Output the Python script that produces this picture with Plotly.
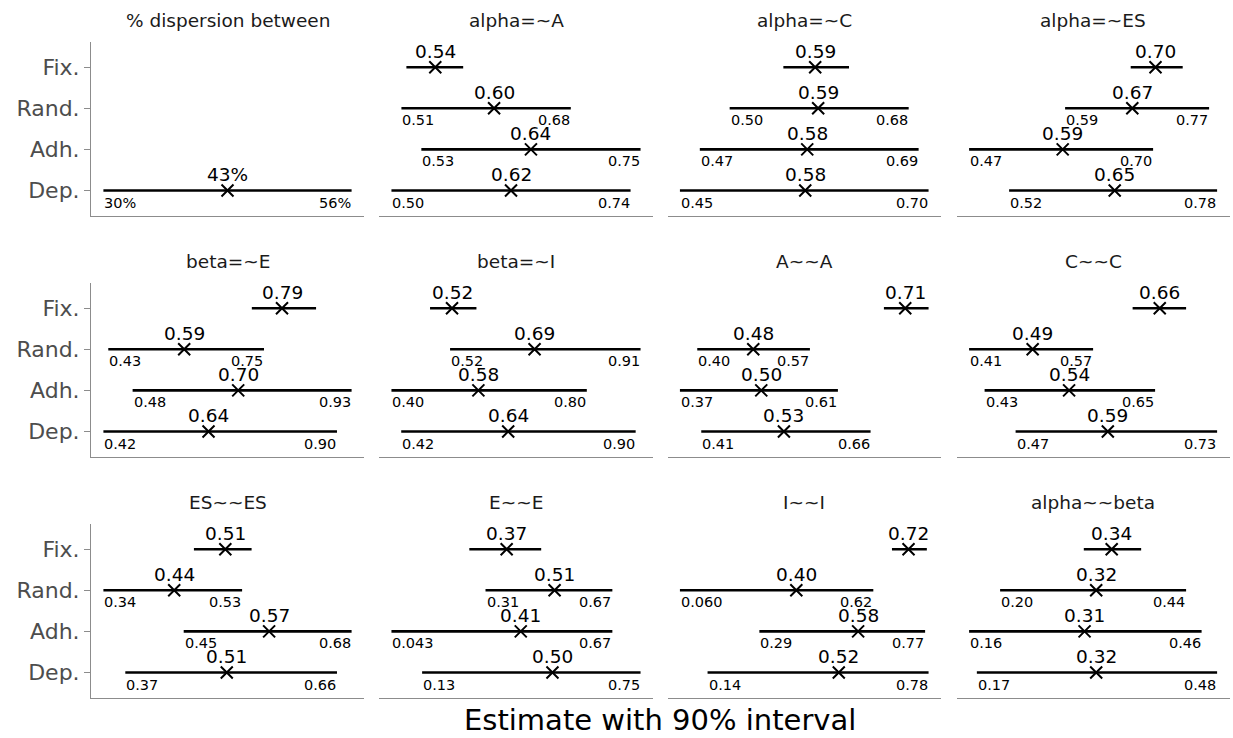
import math
import plotly.graph_objects as go

# ---------------- data ----------------
titles = ["% dispersion between", "alpha=~A", "alpha=~C", "alpha=~ES",
          "beta=~E", "beta=~I", "A~~A", "C~~C",
          "ES~~ES", "E~~E", "I~~I", "alpha~~beta"]
row_labels = ["Fix.", "Rand.", "Adh.", "Dep."]

# order within each panel: Fix., Rand., Adh., Dep.
estimate = [
    [None, None, None, 0.43],
    [0.544, 0.603, 0.640, 0.620],
    [0.586, 0.589, 0.578, 0.576],
    [0.703, 0.674, 0.587, 0.652],
    [0.787, 0.586, 0.697, 0.636],
    [0.524, 0.693, 0.578, 0.639],
    [0.712, 0.484, 0.496, 0.530],
    [0.656, 0.492, 0.539, 0.589],
    [0.507, 0.437, 0.567, 0.509],
    [0.370, 0.506, 0.410, 0.500],
    [0.722, 0.397, 0.576, 0.520],
    [0.344, 0.324, 0.309, 0.324],
]
lower = [
    [None, None, None, 0.30],
    [0.515, 0.51, 0.53, 0.50],
    [0.554, 0.50, 0.47, 0.45],
    [0.672, 0.59, 0.47, 0.52],
    [0.725, 0.43, 0.48, 0.42],
    [0.479, 0.52, 0.40, 0.42],
    [0.680, 0.400, 0.374, 0.406],
    [0.621, 0.41, 0.43, 0.47],
    [0.464, 0.34, 0.45, 0.37],
    [0.264, 0.31, 0.043, 0.13],
    [0.674, 0.060, 0.29, 0.14],
    [0.308, 0.20, 0.16, 0.17],
]
upper = [
    [None, None, None, 0.56],
    [0.572, 0.68, 0.75, 0.74],
    [0.620, 0.68, 0.69, 0.70],
    [0.737, 0.77, 0.70, 0.78],
    [0.857, 0.75, 0.93, 0.90],
    [0.574, 0.91, 0.80, 0.90],
    [0.747, 0.569, 0.611, 0.660],
    [0.690, 0.57, 0.65, 0.73],
    [0.543, 0.53, 0.68, 0.66],
    [0.468, 0.67, 0.67, 0.75],
    [0.775, 0.62, 0.77, 0.78],
    [0.382, 0.44, 0.46, 0.48],
]
percent_panel = [True] + [False] * 11

# ---------------- layout geometry ----------------
W, H = 1233, 738
col_px = [(91, 364), (379, 653), (667.5, 941), (956.7, 1229.5)]
row_px = [(41.7, 216), (282.7, 457), (523.7, 698)]
FONT = "DejaVu Sans"
AXIS_GREY = "#8c8c8c"


def fmt(v, pct):
    if pct:
        return f"{round(v * 100)}%"
    d = 1 - int(math.floor(math.log10(abs(v))))
    return f"{v:.{max(d, 0)}f}"


fig = go.Figure()
layout = dict(
    width=W, height=H, autosize=False,
    margin=dict(l=0, r=0, t=0, b=0),
    paper_bgcolor="white", plot_bgcolor="white",
    showlegend=False,
    font=dict(family=FONT, color="black"),
)
annotations = []

for i, title in enumerate(titles):
    r, c = divmod(i, 4)
    sfx = "" if i == 0 else str(i + 1)
    xa, ya = "x" + sfx, "y" + sfx
    x0, x1 = col_px[c]
    yt, yb = row_px[r]
    pct = percent_panel[i]

    vals = [v for v in lower[i] + upper[i] if v is not None]
    vmin, vmax = min(vals), max(vals)
    pad = 0.05 * (vmax - vmin)

    layout["xaxis" + sfx] = dict(
        domain=[x0 / W, x1 / W], anchor=ya,
        range=[vmin - pad, vmax + pad],
        showgrid=False, zeroline=False, showticklabels=False, ticks="",
        showline=True, linecolor=AXIS_GREY, linewidth=1,
        fixedrange=True,
    )
    first_col = (c == 0)
    layout["yaxis" + sfx] = dict(
        domain=[1 - yb / H, 1 - yt / H], anchor=xa,
        range=[3.62, -0.62],
        tickmode="array", tickvals=[0, 1, 2, 3], ticktext=row_labels,
        showticklabels=first_col,
        ticks="outside" if first_col else "", ticklen=6, tickcolor=AXIS_GREY,
        tickfont=dict(family=FONT, size=22, color="#4d4d4d"),
        showgrid=False, zeroline=False,
        showline=first_col, linecolor=AXIS_GREY, linewidth=1,
        fixedrange=True,
    )

    ex, ey = [], []
    for j in range(4):
        lo, hi, est = lower[i][j], upper[i][j], estimate[i][j]
        if lo is None:
            continue
        fig.add_trace(go.Scatter(
            x=[lo, hi], y=[j, j], mode="lines",
            line=dict(color="black", width=2.6),
            xaxis=xa, yaxis=ya, hoverinfo="skip"))
        ex.append(est)
        ey.append(j)
        annotations.append(dict(
            x=est, y=j, xref=xa, yref=ya, text=fmt(est, pct),
            showarrow=False, xanchor="center", yanchor="middle", yshift=16,
            font=dict(family=FONT, size=18.5, color="black")))
        if j > 0:
            annotations.append(dict(
                x=lo, y=j, xref=xa, yref=ya, text=fmt(lo, pct),
                showarrow=False, xanchor="left", yanchor="middle", yshift=-12,
                xshift=-1, font=dict(family=FONT, size=14.5, color="black")))
            annotations.append(dict(
                x=hi, y=j, xref=xa, yref=ya, text=fmt(hi, pct),
                showarrow=False, xanchor="right", yanchor="middle", yshift=-12,
                xshift=1, font=dict(family=FONT, size=14.5, color="black")))
    fig.add_trace(go.Scatter(
        x=ex, y=ey, mode="markers",
        marker=dict(symbol="x-thin", size=12, color="black",
                    line=dict(color="black", width=2)),
        xaxis=xa, yaxis=ya, hoverinfo="skip"))

    annotations.append(dict(
        x=(x0 + x1) / 2 / W, y=1 - (yt - 21) / H, xref="paper", yref="paper",
        text=title, showarrow=False, xanchor="center", yanchor="middle",
        font=dict(family=FONT, size=18.5, color="#1a1a1a")))

annotations.append(dict(
    x=660 / W, y=1 - 720 / H, xref="paper", yref="paper",
    text="Estimate with 90% interval", showarrow=False,
    xanchor="center", yanchor="middle",
    font=dict(family=FONT, size=29, color="black")))

layout["annotations"] = annotations
fig.update_layout(**layout)
fig.write_html("out.html")
